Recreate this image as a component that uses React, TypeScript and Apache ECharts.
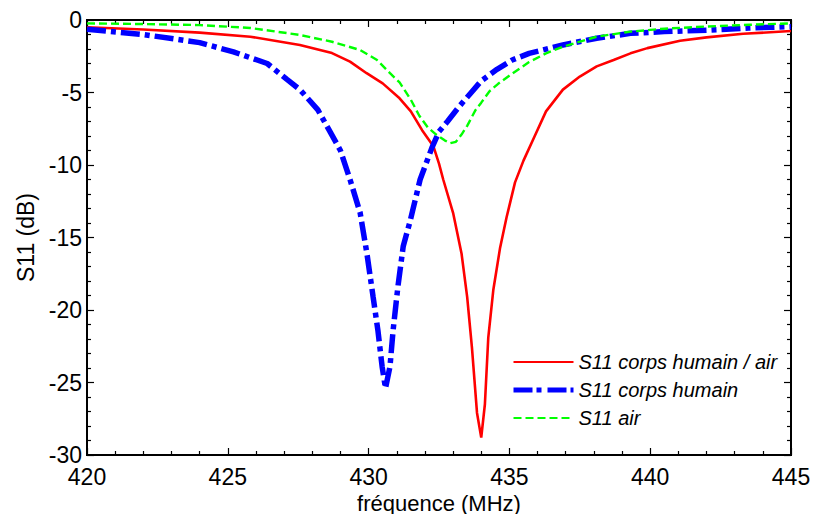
import React, { useEffect, useRef } from "react";
import * as echarts from "echarts";

const seriesNames = ["S11 corps humain / air", "S11 corps humain", "S11 air"];

const freqHumanAir = [420, 422, 424, 425.8, 427.56, 428.7, 429.34, 429.93, 430.5, 431.1, 431.5, 431.9, 432.3, 432.5, 432.65, 433.0, 433.3, 433.5, 433.67, 433.85, 434.0, 434.13, 434.25, 434.43, 434.67, 434.9, 435.2, 435.5, 435.9, 436.3, 436.9, 437.5, 438.1, 438.7, 439.3, 439.9, 441.06, 442, 443.3, 445];
const s11HumanAir = [-0.5, -0.65, -0.87, -1.15, -1.72, -2.28, -2.87, -3.67, -4.37, -5.4, -6.3, -7.6, -8.7, -9.9, -11.0, -13.3, -16.1, -19.1, -22.6, -27.1, -28.8, -26.5, -21.9, -18.6, -15.7, -13.6, -11.2, -9.7, -8.0, -6.3, -4.8, -3.9, -3.2, -2.76, -2.3, -1.94, -1.43, -1.2, -0.95, -0.76];

const freqHuman = [420, 422, 424, 425.2, 426.4, 427.1, 427.56, 428.2, 428.6, 429.0, 429.34, 429.7, 429.94, 430.16, 430.33, 430.48, 430.6, 430.76, 430.87, 431.04, 431.23, 431.47, 431.83, 432.25, 432.5, 432.8, 433.2, 433.6, 434.0, 434.56, 435.1, 435.7, 436.9, 438.1, 439.3, 440.5, 442, 443.5, 445];
const s11Human = [-0.64, -1.0, -1.56, -2.2, -3.0, -4.1, -4.8, -6.2, -7.6, -9.0, -11.0, -13.3, -16.1, -19.1, -21.4, -23.9, -25.4, -23.9, -21.4, -18.4, -15.6, -13.9, -11.0, -8.8, -7.7, -7.0, -6.0, -5.1, -4.2, -3.4, -2.76, -2.3, -1.72, -1.26, -0.92, -0.8, -0.7, -0.55, -0.46];

const freqAir = [420, 422, 424, 425.8, 427.56, 428.7, 429.7, 430.3, 430.76, 431.1, 431.5, 431.8, 432.1, 432.4, 432.7, 432.9, 433.1, 433.3, 433.5, 433.8, 434.0, 434.3, 434.6, 435.1, 435.7, 436.3, 436.9, 438.1, 439.3, 440.5, 442, 443.5, 445];
const s11Air = [-0.23, -0.28, -0.35, -0.55, -1.03, -1.5, -2.07, -2.76, -3.67, -4.3, -5.5, -6.6, -7.4, -7.9, -8.3, -8.5, -8.4, -7.9, -7.3, -6.2, -5.7, -4.9, -4.4, -3.7, -2.9, -2.3, -1.84, -1.15, -0.8, -0.6, -0.45, -0.33, -0.23];

const FONT = "'Liberation Sans', Arial, sans-serif";

const zip = (xs: number[], ys: number[]) => xs.map((x, i) => [x, ys[i]]);

export default function App() {
  const ref = useRef<HTMLDivElement>(null);
  useEffect(() => {
    if (!ref.current) return;
    const chart = echarts.init(ref.current, null, { renderer: "svg" });
    const axisLine = { show: true, onZero: false, lineStyle: { color: "#000", width: 2 } };
    const tick = { show: true, inside: true, length: 7, lineStyle: { color: "#000", width: 1.2 } };
    const minor = { show: true, splitNumber: 5, length: 4, lineStyle: { color: "#000", width: 1.2 } };
    const colors = ["#ff0000", "#0000ff", "#00ff00"];
    const seriesLine = [
      { color: colors[0], width: 2.6, type: "solid" },
      { color: colors[1], width: 5.5, type: [19, 5, 5, 5] },
      { color: colors[2], width: 2.4, type: [8, 4] },
    ];
    const legendLine = [
      { color: colors[0], width: 2, type: "solid" },
      { color: colors[1], width: 5, type: [19, 4, 5, 6] },
      { color: colors[2], width: 2, type: [8, 4] },
    ];
    const hidden = { color: "rgba(0,0,0,0)", borderColor: "rgba(0,0,0,0)", borderWidth: 0, opacity: 0 };
    chart.setOption({
      animation: false,
      backgroundColor: "#fff",
      grid: { left: 87, right: 22, top: 20, bottom: 59, containLabel: false, outerBoundsMode: "none", show: true, borderColor: "#000", borderWidth: 2, backgroundColor: "rgba(0,0,0,0)" },
      legend: {
        orient: "vertical",
        left: 506,
        top: 347,
        itemWidth: 60,
        itemHeight: 14,
        itemGap: 8,
        textStyle: { fontFamily: FONT, fontSize: 20, fontStyle: "italic", color: "#000" },
        data: seriesNames.map((n, i) => ({ name: n, lineStyle: legendLine[i], itemStyle: hidden })),
      },
      xAxis: [
        {
          type: "value",
          min: 420,
          max: 445,
          interval: 5,
          name: "fréquence (MHz)",
          nameLocation: "middle",
          nameGap: 37,
          nameMoveOverlap: false,
          nameTextStyle: { fontFamily: FONT, fontSize: 22, color: "#000" },
          axisLine,
          axisTick: tick,
          minorTick: minor,
          splitLine: { show: false },
          axisLabel: { fontFamily: FONT, fontSize: 23, color: "#000", margin: 10 },
        },
        {
          type: "value",
          position: "top",
          min: 420,
          max: 445,
          interval: 5,
          axisLine,
          axisTick: tick,
          minorTick: minor,
          splitLine: { show: false },
          axisLabel: { show: false },
        },
      ],
      yAxis: [
        {
          type: "value",
          min: -30,
          max: 0,
          interval: 5,
          name: "S11 (dB)",
          nameLocation: "middle",
          nameGap: 46,
          nameTextStyle: { fontFamily: FONT, fontSize: 23, color: "#000" },
          axisLine,
          axisTick: tick,
          minorTick: minor,
          splitLine: { show: false },
          axisLabel: { fontFamily: FONT, fontSize: 23, color: "#000", margin: 5 },
        },
        {
          type: "value",
          position: "right",
          min: -30,
          max: 0,
          interval: 5,
          axisLine,
          axisTick: tick,
          minorTick: minor,
          splitLine: { show: false },
          axisLabel: { show: false },
        },
      ],
      series: [
        { name: seriesNames[0], type: "line", data: zip(freqHumanAir, s11HumanAir), symbol: "none", lineStyle: seriesLine[0], itemStyle: { color: colors[0] } },
        { name: seriesNames[1], type: "line", data: zip(freqHuman, s11Human), symbol: "none", lineStyle: seriesLine[1], itemStyle: { color: colors[1] } },
        { name: seriesNames[2], type: "line", data: zip(freqAir, s11Air), symbol: "none", lineStyle: seriesLine[2], itemStyle: { color: colors[2] } },
        { name: "frame", type: "line", xAxisIndex: 1, yAxisIndex: 1, data: [], symbol: "none", silent: true },
      ],
    });
    return () => chart.dispose();
  }, []);
  return <div ref={ref} style={{ width: 813, height: 514, position: "absolute", left: 0, top: 0 }} />;
}
